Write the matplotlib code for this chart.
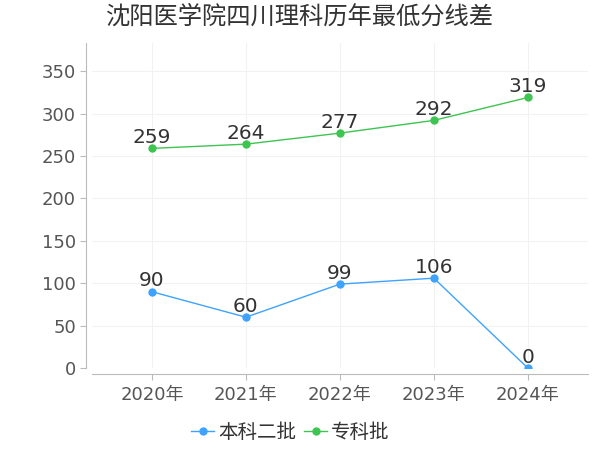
import matplotlib
matplotlib.use('Agg')
import matplotlib.pyplot as plt

plt.rcParams['font.family'] = ['DejaVu Sans', 'Noto Sans CJK SC']

years = ['2020年', '2021年', '2022年', '2023年', '2024年']
benke2 = [90, 60, 99, 106, 0]      # 本科二批
zhuanke = [259, 264, 277, 292, 319]  # 专科批
yticks = [0, 50, 100, 150, 200, 250, 300, 350]

blue = '#3ea2ff'
green = '#3ec451'

fig = plt.figure(figsize=(6, 4.5), dpi=100)
ax = fig.add_axes([0.153, 0.182, 0.827, 0.722])

x = list(range(len(years)))
ax.plot(x, benke2, color=blue, marker='o', markersize=5, linewidth=1, label='本科二批')
ax.plot(x, zhuanke, color=green, marker='o', markersize=5, linewidth=1, label='专科批')

for xi, v in zip(x, benke2):
    ax.annotate(str(v), (xi, v), xytext=(0, 1), textcoords='offset points',
                ha='center', va='bottom', fontsize=14.5, color='#333333')
for xi, v in zip(x, zhuanke):
    ax.annotate(str(v), (xi, v), xytext=(0, 1), textcoords='offset points',
                ha='center', va='bottom', fontsize=14.5, color='#333333')

ax.set_xlim(-0.64, 4.64)
ax.set_ylim(0, 383)
ax.set_xticks(x)
ax.set_xticklabels(years)
ax.set_yticks(yticks)
ax.tick_params(axis='both', labelsize=13, colors='#555555', length=4, color='#bbbbbb')
ax.tick_params(axis='x', pad=5)

ax.grid(True, color='#f2f2f2', linewidth=0.8)
ax.set_axisbelow(True)
for s in ['top', 'right']:
    ax.spines[s].set_visible(False)
ax.spines['left'].set_position(('outward', 4))
ax.spines['bottom'].set_position(('outward', 4))
ax.spines['left'].set_color('#bbbbbb')
ax.spines['bottom'].set_color('#bbbbbb')

fig.suptitle('沈阳医学院四川理科历年最低分线差', x=0.5, y=0.99, fontsize=17.5, color='#333333')

ax.legend(loc='upper center', bbox_to_anchor=(0.4, -0.115), ncol=2, frameon=False,
          fontsize=14, handlelength=1.2, handletextpad=0.2, columnspacing=0.4,
          labelcolor='#333333')

fig.savefig('out.png', dpi=100)
